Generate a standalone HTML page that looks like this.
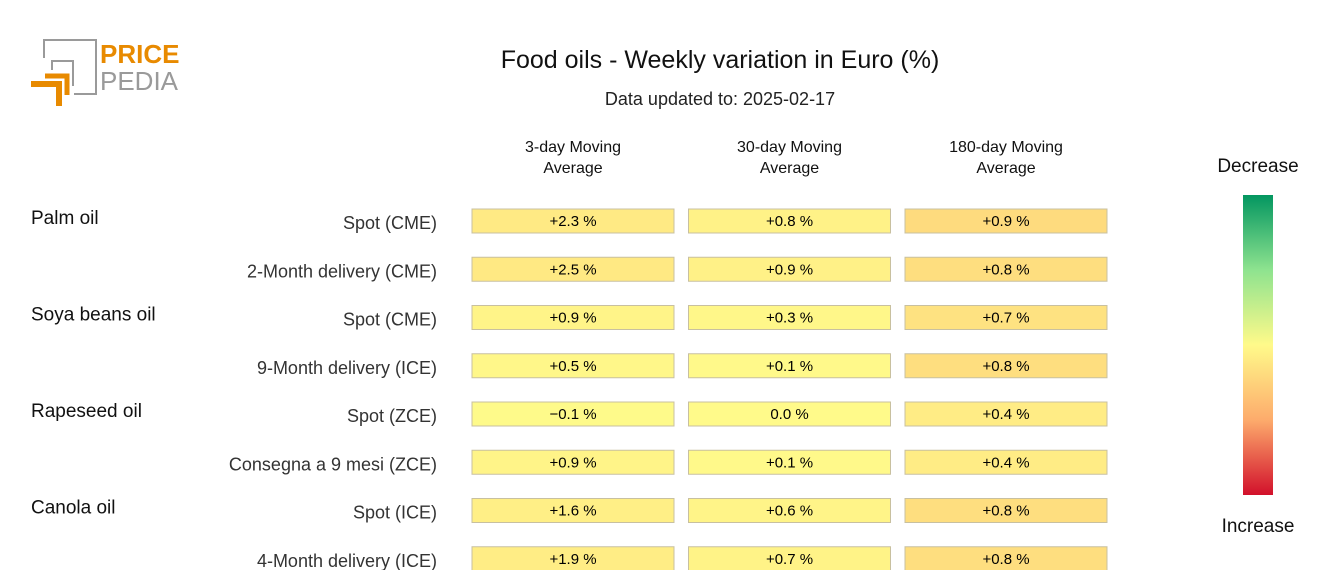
<!DOCTYPE html>
<html><head><meta charset="utf-8"><style>
html,body{margin:0;padding:0;background:#fff;}
svg{display:block;font-family:"Liberation Sans",sans-serif;}
</style></head><body>
<svg id="chart" width="1320" height="570" viewBox="0 0 1320 570">
<defs>
<linearGradient id="cbar" x1="0" y1="0" x2="0" y2="1">
<stop offset="0" stop-color="#039660"/><stop offset="0.25" stop-color="#8ee38f"/>
<stop offset="0.5" stop-color="#fffa8a"/><stop offset="0.75" stop-color="#fdab6c"/>
<stop offset="1" stop-color="#d2102b"/></linearGradient>
</defs>
<g>
<polyline points="44,58 44,40 96,40 96,94 74,94" fill="none" stroke="#9a9a9a" stroke-width="2"/>
<polyline points="52,70 52,61 73,61 73,86" fill="none" stroke="#9a9a9a" stroke-width="2"/>
<polyline points="31,84 59,84 59,106" fill="none" stroke="#e88a00" stroke-width="6"/>
<polyline points="45,76 67,76 67,95" fill="none" stroke="#e88a00" stroke-width="5"/>
<text x="100" y="63" font-size="26" font-weight="bold" fill="#e88a00">PRICE</text>
<text x="100" y="90" font-size="26" fill="#9a9a9a">PEDIA</text>
</g>
<text x="720" y="68" text-anchor="middle" font-size="25" fill="#111">Food oils - Weekly variation in Euro (%)</text>
<text x="720" y="105" text-anchor="middle" font-size="18" fill="#222">Data updated to: 2025-02-17</text>
<g id="cols"></g><g id="rows"></g><g id="cells"></g>
<g>
<text x="1258" y="172" text-anchor="middle" font-size="19" fill="#111">Decrease</text>
<rect x="1243" y="195" width="30" height="300" fill="url(#cbar)"/>
<text x="1258" y="532" text-anchor="middle" font-size="19" fill="#111">Increase</text>
</g>
</svg>
<script>
const columns=[["3-day Moving","Average"],["30-day Moving","Average"],["180-day Moving","Average"]];
const groups=["Palm oil","","Soya beans oil","","Rapeseed oil","","Canola oil",""];
const products=["Spot (CME)","2-Month delivery (CME)","Spot (CME)","9-Month delivery (ICE)","Spot (ZCE)","Consegna a 9 mesi (ZCE)","Spot (ICE)","4-Month delivery (ICE)"];
const col3day=[2.3,2.5,0.9,0.5,-0.1,0.9,1.6,1.9];
const col30day=[0.8,0.9,0.3,0.1,0.0,0.1,0.6,0.7];
const col180day=[0.9,0.8,0.7,0.8,0.4,0.4,0.8,0.8];
const series=[col3day,col30day,col180day];
const colScale=[0.022,0.03,0.11];
const NS="http://www.w3.org/2000/svg";
const colX=i=>472+i*216.5, cellW=202, rowY=j=>209+j*48.25, cellH=24;
const stops=[[0,[3,150,96]],[0.25,[142,227,143]],[0.5,[255,250,138]],[0.75,[253,171,108]],[1,[210,16,43]]];
function color(p){p=Math.max(0,Math.min(1,p));for(let k=1;k<stops.length;k++){if(p<=stops[k][0]){const a=stops[k-1],b=stops[k],t=(p-a[0])/(b[0]-a[0]);return "rgb("+a[1].map((c,i)=>Math.round(c+(b[1][i]-c)*t)).join(",")+")";}}}
function mk(tag,attrs,parent,txt){const e=document.createElementNS(NS,tag);for(const k in attrs)e.setAttribute(k,attrs[k]);if(txt!==undefined)e.textContent=txt;parent.appendChild(e);return e;}
const gc=document.getElementById('cols'),gr=document.getElementById('rows'),gx=document.getElementById('cells');
columns.forEach((c,i)=>{
 const t=mk('text',{x:colX(i)+cellW/2,y:152,'text-anchor':'middle','font-size':16,fill:'#111'},gc);
 
 
 mk('tspan',{x:colX(i)+cellW/2,dy:0},t,c[0]);mk('tspan',{x:colX(i)+cellW/2,dy:21},t,c[1]);
});
products.forEach((p,j)=>{
 const cy=rowY(j)+cellH/2;
 if(groups[j]){const g=mk('text',{x:31,y:cy+3,'font-size':19,fill:'#111'},gr,groups[j]);
  
  }
 const t=mk('text',{x:437,y:cy+8,'text-anchor':'end','font-size':18,fill:'#333'},gr,p);
 
 
 series.forEach((s,i)=>{
  const v=s[j];
  const r=mk('rect',{x:colX(i),y:rowY(j),width:cellW,height:cellH,fill:color(0.5+v*colScale[i]),stroke:'#c8c0a0','stroke-width':1},gx);
  
  
  const lbl=(v>0?'+':v<0?'\u2212':'')+Math.abs(v).toFixed(1)+' %';
  const tt=mk('text',{x:colX(i)+cellW/2,y:rowY(j)+17,'text-anchor':'middle','font-size':15,fill:'#000'},gx,lbl);
  
  
 });
});
</script>
</body></html>
